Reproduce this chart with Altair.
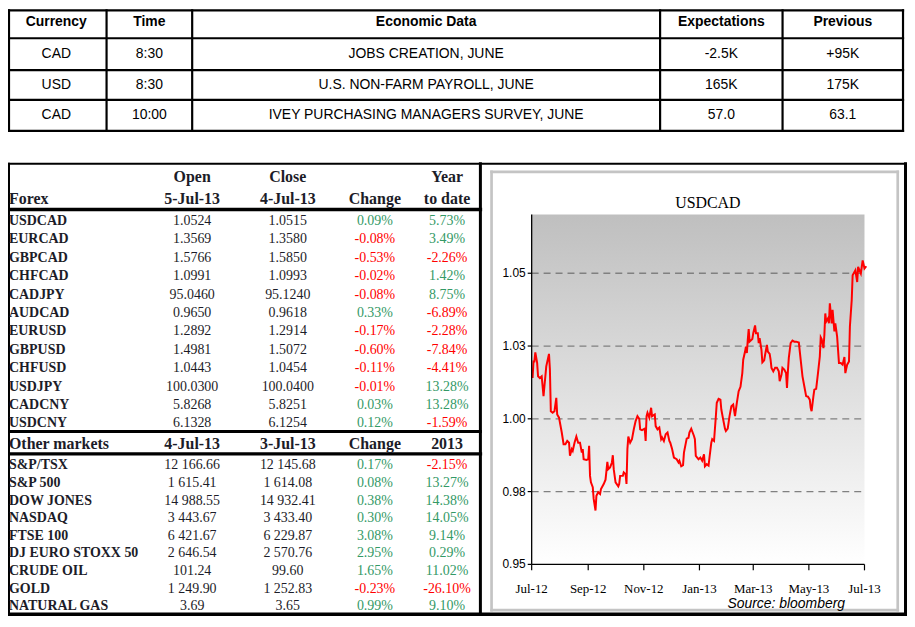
import altair as alt
import pandas as pd

# ---------------- data ----------------
cal_headers = ["Currency", "Time", "Economic Data", "Expectations", "Previous"]
cal_currency = ["CAD", "USD", "CAD"]
cal_time = ["8:30", "8:30", "10:00"]
cal_event = ["JOBS CREATION, JUNE", "U.S. NON-FARM PAYROLL, JUNE",
             "IVEY PURCHASING MANAGERS SURVEY, JUNE"]
cal_expect = ["-2.5K", "165K", "57.0"]
cal_prev = ["+95K", "175K", "63.1"]

forex_head_top = ["Open", "Close", "", "Year"]
forex_head_bot = ["5-Jul-13", "4-Jul-13", "Change", "to date"]
forex_names = ["USDCAD", "EURCAD", "GBPCAD", "CHFCAD", "CADJPY", "AUDCAD",
               "EURUSD", "GBPUSD", "CHFUSD", "USDJPY", "CADCNY", "USDCNY"]
forex_open = ["1.0524", "1.3569", "1.5766", "1.0991", "95.0460", "0.9650",
              "1.2892", "1.4981", "1.0443", "100.0300", "5.8268", "6.1328"]
forex_close = ["1.0515", "1.3580", "1.5850", "1.0993", "95.1240", "0.9618",
               "1.2914", "1.5072", "1.0454", "100.0400", "5.8251", "6.1254"]
forex_change = [0.09, -0.08, -0.53, -0.02, -0.08, 0.33, -0.17, -0.60, -0.11, -0.01, 0.03, 0.12]
forex_ytd = [5.73, 3.49, -2.26, 1.42, 8.75, -6.89, -2.28, -7.84, -4.41, 13.28, 13.28, -1.59]

mk_head = ["4-Jul-13", "3-Jul-13", "Change", "2013"]
mk_names = ["S&P/TSX", "S&P 500", "DOW JONES", "NASDAQ", "FTSE 100",
            "DJ EURO STOXX 50", "CRUDE OIL", "GOLD", "NATURAL GAS"]
mk_curr = ["12 166.66", "1 615.41", "14 988.55", "3 443.67", "6 421.67",
           "2 646.54", "101.24", "1 249.90", "3.69"]
mk_prev = ["12 145.68", "1 614.08", "14 932.41", "3 433.40", "6 229.87",
           "2 570.76", "99.60", "1 252.83", "3.65"]
mk_change = [0.17, 0.08, 0.38, 0.30, 3.08, 2.95, 1.65, -0.23, 0.99]
mk_2013 = [-2.15, 13.27, 14.38, 14.05, 9.14, 0.29, 11.02, -26.10, 9.10]

# USDCAD series: days since 2012-07-01 and rate
usdcad_base = "2012-07-01"
usdcad_day = [1, 2, 3, 4, 6, 7, 9, 11, 13, 14, 16, 19, 20, 21, 23, 25, 27, 28, 30, 33,
              35, 37, 39, 41, 42, 44, 45, 47, 49, 51, 53, 55, 56, 57, 60, 62, 63, 64, 65, 67,
              68, 70, 71, 73, 75, 76, 79, 81, 82, 83, 84, 86, 88, 89, 90, 92, 95, 96, 97, 100,
              101, 103, 104, 105, 106, 108, 110, 112, 114, 116, 118, 119, 121, 124, 125, 126, 127, 129, 131, 132,
              135, 136, 138, 140, 142, 143, 145, 147, 149, 151, 152, 154, 156, 159, 161, 162, 164, 166, 167, 170,
              172, 173, 175, 178, 179, 180, 183, 185, 187, 189, 190, 192, 194, 195, 197, 198, 200, 202, 203, 205,
              207, 208, 210, 212, 213, 215, 217, 219, 221, 223, 225, 227, 229, 231, 232, 234, 235, 236, 237, 238,
              239, 242, 243, 245, 246, 248, 249, 250, 252, 253, 255, 256, 258, 259, 261, 262, 263, 265, 267, 269,
              271, 272, 274, 275, 277, 279, 280, 281, 282, 284, 286, 288, 290, 293, 295, 297, 299, 301, 303, 305,
              306, 307, 309, 310, 312, 314, 316, 317, 318, 320, 321, 322, 323, 325, 326, 327, 329, 330, 332, 333,
              335, 337, 339, 341, 343, 344, 346, 348, 349, 351, 352, 355, 357, 358, 361, 363, 365, 367]
usdcad_val = [1.0140, 1.0197, 1.0197, 1.0228, 1.0192, 1.0146, 1.0140, 1.0146, 1.0078, 1.0112,
              1.0180, 1.0223, 1.0169, 1.0026, 1.0021, 1.0026, 1.0072, 1.0015, 1.0004, 0.9953,
              0.9913, 0.9913, 0.9924, 0.9918, 0.9873, 0.9896, 0.9890, 0.9918, 0.9939, 0.9918,
              0.9918, 0.9884, 0.9896, 0.9861, 0.9859, 0.9861, 0.9907, 0.9804, 0.9782, 0.9765,
              0.9725, 0.9685, 0.9736, 0.9748, 0.9742, 0.9759, 0.9776, 0.9791, 0.9821, 0.9852,
              0.9827, 0.9833, 0.9850, 0.9875, 0.9827, 0.9782, 0.9768, 0.9776, 0.9804, 0.9804,
              0.9816, 0.9810, 0.9776, 0.9896, 0.9939, 0.9918, 0.9930, 0.9964, 0.9992, 1.0009,
              1.0000, 0.9964, 0.9961, 0.9966, 0.9924, 1.0009, 1.0021, 1.0004, 1.0038, 1.0009,
              1.0015, 0.9975, 0.9964, 0.9970, 0.9930, 0.9936, 0.9924, 0.9947, 0.9953, 0.9924,
              0.9918, 0.9896, 0.9867, 0.9861, 0.9850, 0.9856, 0.9837, 0.9841, 0.9884, 0.9932,
              0.9935, 0.9953, 0.9966, 0.9941, 0.9930, 0.9873, 0.9861, 0.9867, 0.9856, 0.9878,
              0.9837, 0.9844, 0.9839, 0.9867, 0.9918, 0.9930, 0.9924, 1.0009, 1.0055, 1.0069,
              1.0066, 1.0032, 0.9998, 0.9966, 0.9958, 0.9966, 1.0009, 1.0043, 1.0049, 1.0009,
              1.0055, 1.0095, 1.0110, 1.0157, 1.0203, 1.0231, 1.0248, 1.0226, 1.0271, 1.0308,
              1.0265, 1.0274, 1.0294, 1.0321, 1.0294, 1.0294, 1.0260, 1.0277, 1.0237, 1.0194,
              1.0201, 1.0220, 1.0254, 1.0231, 1.0223, 1.0203, 1.0175, 1.0163, 1.0175, 1.0175,
              1.0163, 1.0129, 1.0152, 1.0175, 1.0169, 1.0157, 1.0106, 1.0163, 1.0209, 1.0260,
              1.0269, 1.0265, 1.0265, 1.0262, 1.0203, 1.0146, 1.0112, 1.0078, 1.0076, 1.0066,
              1.0038, 1.0026, 1.0078, 1.0100, 1.0103, 1.0157, 1.0214, 1.0280, 1.0274, 1.0243,
              1.0288, 1.0362, 1.0334, 1.0345, 1.0328, 1.0397, 1.0328, 1.0374, 1.0300, 1.0328,
              1.0282, 1.0192, 1.0192, 1.0186, 1.0212, 1.0157, 1.0186, 1.0197, 1.0317, 1.0408,
              1.0493, 1.0510, 1.0470, 1.0522, 1.0499, 1.0544, 1.0516, 1.0524]

y_ticks = [0.95, 0.975, 1.00, 1.025, 1.05]
y_tick_labels = ["0.95", "0.98", "1.00", "1.03", "1.05"]
grid_vals = [0.975, 1.00, 1.025, 1.05]
x_tick_dates = ["2012-07-01", "2012-09-01", "2012-11-01", "2013-01-01",
                "2013-03-01", "2013-05-01", "2013-07-01"]
x_tick_labels = ["Jul-12", "Sep-12", "Nov-12", "Jan-13", "Mar-13", "May-13", "Jul-13"]

# ---------------- layout (page pixels) ----------------
W, H = 903, 610
PAGE = 8
LO = PAGE + 1  # clamp for borders at the very edge

GREEN = "#339966"
RED = "#ff0000"
INK = "#1c1c28"

SANS = "Liberation Sans"
SERIF = "Liberation Serif"


def sx():
    return alt.Scale(domain=[PAGE, PAGE + W], range=[0, W], nice=False, zero=False)


def sy():
    return alt.Scale(domain=[PAGE, PAGE + H], range=[0, H], nice=False, zero=False)


def text_layer(rows, font, size, weight="normal", align="center", style="normal"):
    df = pd.DataFrame(rows, columns=["px", "py", "text", "c"])
    return alt.Chart(df).mark_text(
        font=font, fontSize=size, fontWeight=weight, align=align,
        baseline="middle", fontStyle=style
    ).encode(
        x=alt.X("px:Q", scale=sx(), axis=None),
        y=alt.Y("py:Q", scale=sy(), axis=None),
        text="text:N",
        color=alt.Color("c:N", scale=None),
    )


# ---- top calendar table ----
T_COLS = [LO, 107, 193, 663, 786, 907]
T_ROWS = [LO, 37, 69, 99, 130]
t_cx = [(a + b) / 2 for a, b in zip([6, 107, 193, 663, 786], T_COLS[1:])]
t_cy = [21, 53, 84, 114.5]

top_head = [(t_cx[i], t_cy[0], h, "#000000") for i, h in enumerate(cal_headers)]
top_body = []
for r in range(3):
    vals = [cal_currency[r], cal_time[r], cal_event[r], cal_expect[r], cal_prev[r]]
    for i, v in enumerate(vals):
        top_body.append((t_cx[i], t_cy[r + 1], v, "#000000"))

lines = []
for y in T_ROWS:
    lines.append((T_COLS[0], T_COLS[-1], y, y, 2.2, "#000000"))
for x in T_COLS:
    lines.append((x, x, T_ROWS[0], T_ROWS[-1], 2.2, "#000000"))

# ---- bottom box ----
B_TOP, B_BOT = 163, 615.5
B_L, B_DIV, B_R = LO, 482.5, 909.5
lines += [
    (B_L, B_R, B_TOP, B_TOP, 2, "#000000"),
    (B_L, B_R, B_BOT, B_BOT, 3.5, "#000000"),
    (B_L, B_L, B_TOP, B_BOT, 2, "#000000"),
    (B_DIV, B_DIV, B_TOP, B_BOT, 3, "#000000"),
    (B_R, B_R, B_TOP, B_BOT, 3, "#000000"),
    (B_L, B_DIV, 209, 209, 3.5, "#000000"),
    (B_L, B_DIV, 432, 432, 3, "#000000"),
    (B_L, B_DIV, 454.5, 454.5, 3.5, "#000000"),
]
# grey frame around the USDCAD chart
GF_L, GF_R, GF_T, GF_B = 493.7, 901.7, 171.3, 611.5
lines += [
    (GF_L, GF_R, GF_T, GF_T, 2.7, "#c4c4c4"),
    (GF_L, GF_R, GF_B, GF_B, 2.7, "#c4c4c4"),
    (GF_L, GF_L, GF_T, GF_B, 2.7, "#c4c4c4"),
    (GF_R, GF_R, GF_T, GF_B, 2.7, "#c4c4c4"),
]
lines_df = pd.DataFrame(lines, columns=["x", "x2", "y", "y2", "w", "c"])
rules = alt.Chart(lines_df).mark_rule(strokeCap="square").encode(
    x=alt.X("x:Q", scale=sx(), axis=None), x2="x2:Q",
    y=alt.Y("y:Q", scale=sy(), axis=None), y2="y2:Q",
    size=alt.Size("w:Q", scale=None),
    color=alt.Color("c:N", scale=None),
)

# ---- left market table ----
L_LABEL_X = 9
L_COLS = [193, 289, 376.5, 449]
FX_Y0, FX_Y1 = 220.5, 424
MK_Y0, MK_Y1 = 466, 607.5
HEAD_Y1, HEAD_Y2, MK_HEAD_Y = 176, 198.5, 444.5


def pct(v):
    return f"{v:.2f}%"


def clr(v):
    return GREEN if v >= 0 else RED


head_rows = []
for i, h in enumerate(forex_head_top):
    if h:
        head_rows.append((L_COLS[i], HEAD_Y1, h, INK))
for i, h in enumerate(forex_head_bot):
    head_rows.append((L_COLS[i], HEAD_Y2, h, INK))
for i, h in enumerate(mk_head):
    head_rows.append((L_COLS[i], MK_HEAD_Y, h, INK))
head_left = [(L_LABEL_X, HEAD_Y2, "Forex", INK), (L_LABEL_X, MK_HEAD_Y, "Other markets", INK)]

label_rows, value_rows = [], []
nfx = len(forex_names)
for r in range(nfx):
    y = FX_Y0 + (FX_Y1 - FX_Y0) * r / (nfx - 1)
    label_rows.append((L_LABEL_X, y, forex_names[r], INK))
    value_rows += [
        (L_COLS[0], y, forex_open[r], INK),
        (L_COLS[1], y, forex_close[r], INK),
        (L_COLS[2], y, pct(forex_change[r]), clr(forex_change[r])),
        (L_COLS[3], y, pct(forex_ytd[r]), clr(forex_ytd[r])),
    ]
nmk = len(mk_names)
for r in range(nmk):
    y = MK_Y0 + (MK_Y1 - MK_Y0) * r / (nmk - 1)
    label_rows.append((L_LABEL_X, y, mk_names[r], INK))
    value_rows += [
        (L_COLS[0], y, mk_curr[r], INK),
        (L_COLS[1], y, mk_prev[r], INK),
        (L_COLS[2], y, pct(mk_change[r]), clr(mk_change[r])),
        (L_COLS[3], y, pct(mk_2013[r]), clr(mk_2013[r])),
    ]

# ---- USDCAD chart ----
PL, PR, PT, PB = 534, 868.3, 214, 565.5
YMAX = 1.0702
XS = alt.Scale(domain=[alt.DateTime(year=2012, month=7, date=1, utc=True),
                       alt.DateTime(year=2013, month=7, date=1, utc=True)],
               range=[PL - PAGE, PR - PAGE], nice=False)
YS = alt.Scale(domain=[0.95, YMAX], range=[PB - PAGE, PT - PAGE], nice=False, zero=False)

base_ts = pd.Timestamp(usdcad_base)
line_df = pd.DataFrame({
    "date": [(base_ts + pd.Timedelta(days=d)).strftime("%Y-%m-%d") for d in usdcad_day],
    "v": usdcad_val,
})
frame_df = pd.DataFrame({"d0": [x_tick_dates[0]], "d1": [x_tick_dates[-1]], "v0": [0.95], "v1": [YMAX]})
grid_df = pd.DataFrame({"d0": x_tick_dates[0], "d1": x_tick_dates[-1], "v": grid_vals})
yt_df = pd.DataFrame({"v": y_ticks, "label": y_tick_labels})
xt_df = pd.DataFrame({"d": x_tick_dates, "label": x_tick_labels})

bg = alt.Chart(frame_df).mark_rect(
    fill=alt.Gradient(gradient="linear", x1=0, x2=0, y1=0, y2=1,
                      stops=[alt.GradientStop(color="#bfbfbf", offset=0),
                             alt.GradientStop(color="#ffffff", offset=1)])
).encode(x=alt.X("d0:T", scale=XS, axis=None), x2="d1:T",
         y=alt.Y("v0:Q", scale=YS, axis=None), y2="v1:Q")

grid = alt.Chart(grid_df).mark_rule(color="#808080", strokeWidth=1.3, strokeDash=[7, 5]).encode(
    x=alt.X("d0:T", scale=XS, axis=None), x2="d1:T",
    y=alt.Y("v:Q", scale=YS, axis=None))

series = alt.Chart(line_df).mark_line(color=RED, strokeWidth=2, clip=False).encode(
    x=alt.X("date:T", scale=XS, axis=None),
    y=alt.Y("v:Q", scale=YS, axis=None))

y_axis_line = alt.Chart(frame_df).mark_rule(color="#000000", strokeWidth=1.3).encode(
    x=alt.X("d0:T", scale=XS, axis=None),
    y=alt.Y("v0:Q", scale=YS, axis=None), y2="v1:Q")
x_axis_line = alt.Chart(frame_df).mark_rule(color="#000000", strokeWidth=1.3).encode(
    x=alt.X("d0:T", scale=XS, axis=None), x2="d1:T",
    y=alt.Y("v0:Q", scale=YS, axis=None))

y_tick_marks = alt.Chart(yt_df).mark_rule(color="#000000", strokeWidth=1.2).encode(
    x=alt.value(PL - PAGE - 4), x2=alt.value(PL - PAGE),
    y=alt.Y("v:Q", scale=YS, axis=None))
y_tick_text = alt.Chart(yt_df).mark_text(font=SANS, fontSize=12, align="right", baseline="middle",
                                         color="#000000").encode(
    x=alt.value(PL - PAGE - 6), y=alt.Y("v:Q", scale=YS, axis=None), text="label:N")

x_tick_marks = alt.Chart(xt_df).mark_rule(color="#000000", strokeWidth=1.2).encode(
    x=alt.X("d:T", scale=XS, axis=None),
    y=alt.value(PB - PAGE), y2=alt.value(PB - PAGE + 6))
x_tick_text = alt.Chart(xt_df).mark_text(font=SERIF, fontSize=13, align="center", baseline="middle",
                                         color="#000000").encode(
    x=alt.X("d:T", scale=XS, axis=None), y=alt.value(590.5 - PAGE), text="label:N")

title = alt.Chart(pd.DataFrame({"t": ["USDCAD"]})).mark_text(
    font=SERIF, fontSize=16, align="center", baseline="middle", color="#000000").encode(
    x=alt.value(711 - PAGE), y=alt.value(203 - PAGE), text="t:N")
source = alt.Chart(pd.DataFrame({"t": ["Source: bloomberg"]})).mark_text(
    font=SANS, fontSize=14, fontStyle="italic", align="center", baseline="middle",
    color="#000000").encode(
    x=alt.value(789.7 - PAGE), y=alt.value(605 - PAGE), text="t:N")

usdcad_chart = alt.layer(bg, grid, series, y_axis_line, x_axis_line, y_tick_marks,
                         y_tick_text, x_tick_marks, x_tick_text, title, source)

chart = alt.layer(
    rules,
    text_layer(top_head, SANS, 14, weight="bold"),
    text_layer(top_body, SANS, 14),
    text_layer(head_rows, SERIF, 16, weight="bold"),
    text_layer(head_left, SERIF, 16, weight="bold", align="left"),
    text_layer(label_rows, SERIF, 14, weight="bold", align="left"),
    text_layer(value_rows, SERIF, 14),
    usdcad_chart,
).resolve_scale(x="independent", y="independent").properties(
    width=W, height=H, autosize="none", padding=0
).configure_view(strokeWidth=0)

chart.save("out.html", embed_options={"renderer": "svg", "actions": False})
